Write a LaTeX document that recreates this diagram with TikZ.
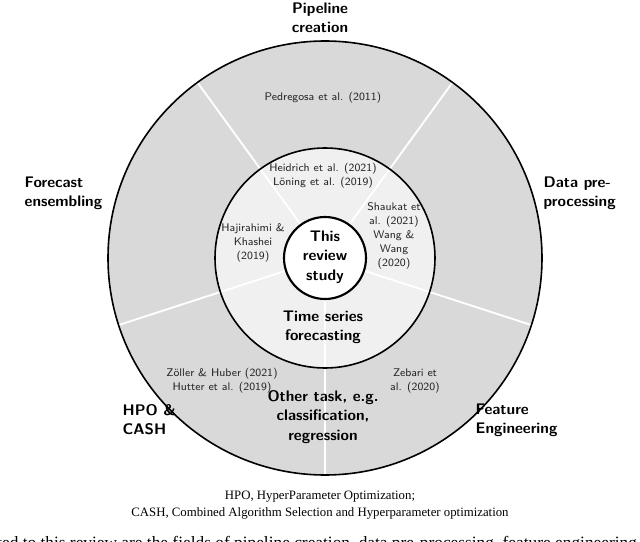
\documentclass[tikz,border=0pt]{standalone}
\usepackage{fontspec}
\newfontfamily\capfont{Liberation Serif}
\begin{document}
\begin{tikzpicture}[x=0.75pt,y=-0.75pt,
  ref/.style={font=\sffamily\fontsize{8.3}{10.6}\selectfont,align=center,text=black!85},
  big/.style={font=\sffamily\bfseries\fontsize{11.5}{14.5}\selectfont,align=center},
  sep/.style={white,line width=1.4pt}]
\useasboundingbox (0,0) rectangle (640,542);
\clip (0,0) rectangle (640,542);
\coordinate (c) at (325,258);
\fill[black!15] (c) circle[radius=217];
\fill[black!6] (c) circle[radius=110];
\foreach \a in {-270,-342,-54,-126,-198}
  \draw[sep] (c) -- ++(\a:217);
\draw[line width=1.2pt] (c) circle[radius=217];
\draw[line width=1.2pt] (c) circle[radius=110];
\node[circle,draw,fill=white,line width=1.6pt,minimum size=61.5pt,inner sep=0pt] (ring) at (c) {};
\node[big] (core) at (325,257) {This\\review\\study};
\node[ref] (p1) at (323,98) {Pedregosa et al. (2011)};
\node[ref] (p2) at (323,176) {Heidrich et al. (2021)\\Löning et al. (2019)};
\node[ref] (p3) at (394,236) {Shaukat et\\al. (2021)\\Wang \&\\Wang\\(2020)};
\node[ref] (p4) at (253,243) {Hajirahimi \&\\Khashei\\(2019)};
\node[ref] (p5) at (222,381) {Zöller \& Huber (2021)\\Hutter et al. (2019)};
\node[ref] (p6) at (415,381) {Zebari et\\al. (2020)};
\node[big] (t1) at (323,327) {Time series\\forecasting};
\node[big] (t2) at (323,417) {Other task, e.g.\\classification,\\regression};
\node[big] (l1) at (320,18) {Pipeline\\creation};
\node[big,align=left,anchor=west] (l2) at (20,193) {Forecast\\ensembling};
\node[big,align=left,anchor=west] (l3) at (539,193) {Data pre-\\processing};
\node[big,align=left,anchor=west] (l4) at (118,420) {HPO \&\\CASH};
\node[big,align=left,anchor=west] (l5) at (471,420) {Feature\\Engineering};
\node[font=\capfont\fontsize{9.6}{12.3}\selectfont,align=center] (cap) at (320,505) {HPO, HyperParameter Optimization;\\CASH, Combined Algorithm Selection and Hyperparameter optimization};
\node[font=\capfont\fontsize{13}{15}\selectfont,anchor=west,inner sep=0pt] (cut) at (-3,544) {ted to this review are the fields of pipeline creation, data pre-processing, feature engineering};
\end{tikzpicture}
\end{document}
